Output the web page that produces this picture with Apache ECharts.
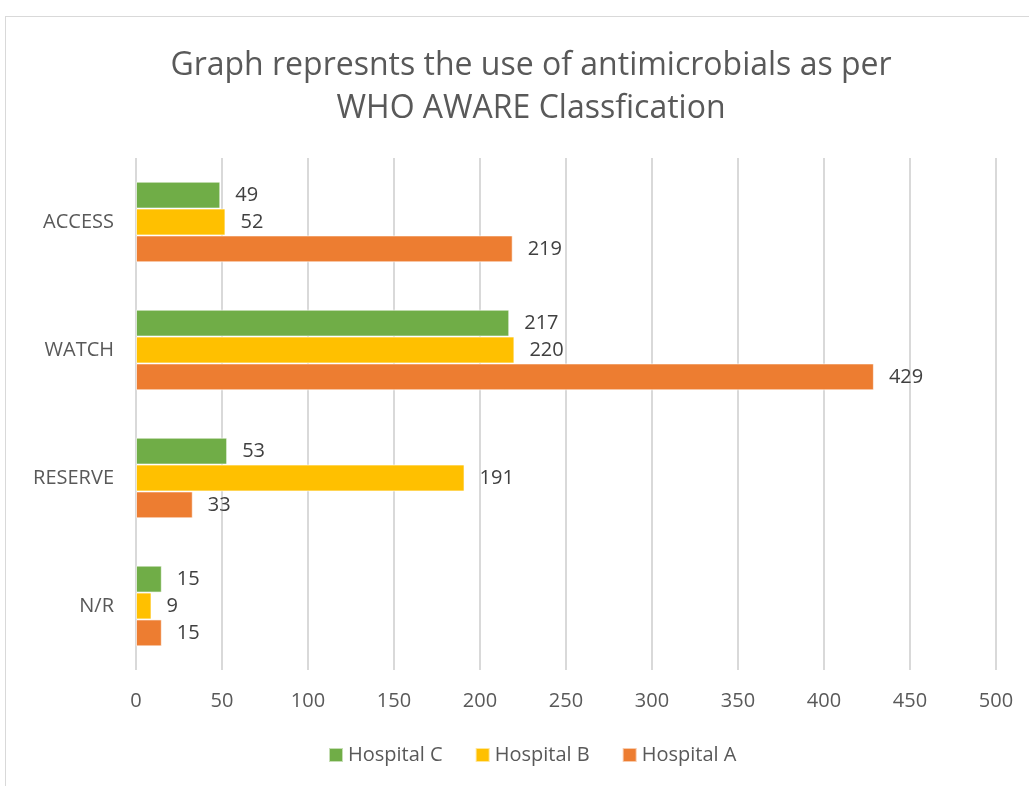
<!DOCTYPE html>
<html>
<head>
<meta charset="utf-8">
<script src="https://cdn.jsdelivr.net/npm/echarts@6/dist/echarts.min.js"></script>
<style>
  html, body { margin: 0; padding: 0; background: #fff; }
  .frame {
    position: absolute;
    left: 5px;
    top: 16px;
    width: 1030px;
    height: 780px;
    border: 1px solid #d9d9d9;
    box-sizing: border-box;
  }
  #chart { position: absolute; left: 0; top: 0; width: 1029px; height: 786px; }
</style>
</head>
<body>
<div class="frame"></div>
<div id="chart"></div>
<script>
// categories, top to bottom
const categories = ['ACCESS', 'WATCH', 'RESERVE', 'N/R']
const hospitalC = [49, 217, 53, 15]
const hospitalB = [52, 220, 191, 9]
const hospitalA = [219, 429, 33, 15]
const xTicks = [0, 50, 100, 150, 200, 250, 300, 350, 400, 450, 500]

const font = '"Open Sans", "Noto Sans", sans-serif'

const myChart = echarts.init(document.getElementById('chart'))

function barSeries (name, data, color) {
  return {
    name: name,
    type: 'bar',
    data: data,
    barGap: '0%',
    barCategoryGap: '37%',
    itemStyle: {
      color: color,
      borderColor: 'rgba(255,255,255,0.6)',
      borderWidth: 1
    },
    label: {
      show: true,
      position: 'right',
      distance: 15,
      color: '#404040',
      fontSize: 20,
      fontFamily: font
    }
  }
}

const options = {
  animation: false,
  title: {
    text: 'Graph represnts the use of antimicrobials as per\nWHO AWARE Classfication',
    left: 526,
    textAlign: 'center',
    top: 39,
    textStyle: {
      color: '#595959',
      fontSize: 32,
      fontWeight: 'normal',
      fontFamily: font,
      lineHeight: 43
    }
  },
  legend: {
    data: ['Hospital C', 'Hospital B', 'Hospital A'],
    bottom: 16,
    left: 323,
    itemWidth: 14,
    itemHeight: 14,
    itemGap: 32,
    icon: 'rect',
    textStyle: {
      color: '#595959',
      fontSize: 20,
      fontFamily: font
    }
  },
  grid: {
    left: 136,
    right: 33,
    top: 158,
    bottom: 116,
    containLabel: false
  },
  xAxis: {
    type: 'value',
    min: xTicks[0],
    max: xTicks[xTicks.length - 1],
    interval: 50,
    axisLine: { show: false },
    axisTick: { show: false },
    splitLine: { show: true, lineStyle: { color: '#d9d9d9', width: 2 } },
    axisLabel: {
      margin: 21,
      color: '#595959',
      fontSize: 20,
      fontFamily: font
    }
  },
  yAxis: {
    type: 'category',
    data: categories,
    inverse: true,
    axisLine: { show: false },
    axisTick: { show: false },
    axisLabel: {
      margin: 22,
      color: '#595959',
      fontSize: 20,
      fontFamily: font
    }
  },
  series: [
    barSeries('Hospital C', hospitalC, '#70ad47'),
    barSeries('Hospital B', hospitalB, '#ffc000'),
    barSeries('Hospital A', hospitalA, '#ed7d31')
  ]
}

myChart.setOption(options)
</script>
</body>
</html>
